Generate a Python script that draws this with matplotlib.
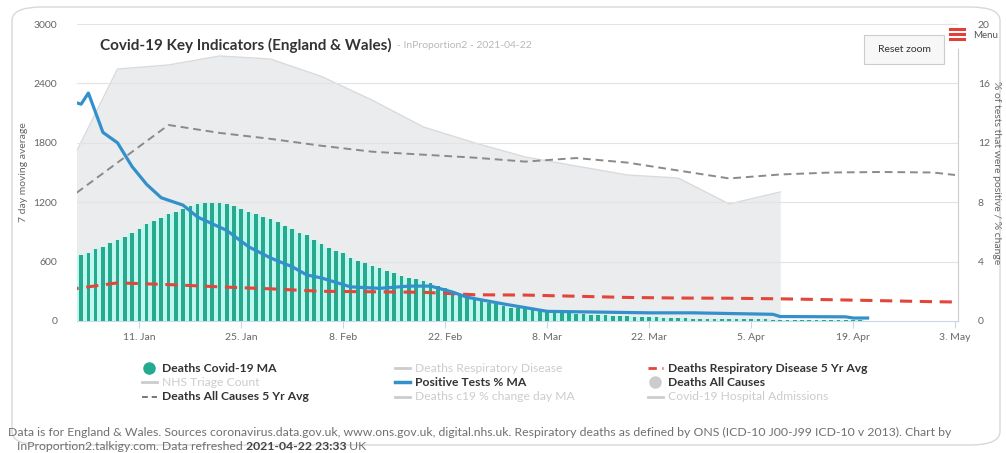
## Covid-19 key indicators chart (England & Wales)
import numpy as np
import pandas as pd
import matplotlib
matplotlib.use('Agg')
import matplotlib.pyplot as plt
from matplotlib.lines import Line2D
from matplotlib.patches import FancyBboxPatch, Rectangle

plt.rcParams['font.family'] = ['Lato', 'DejaVu Sans']

# deaths covid-19 7 day MA, daily from 3 Jan
bar_start = '2021-01-03'
deaths_c19 = [667, 690, 724, 751, 785, 818, 852, 892, 929, 976, 1010, 1044, 1078, 1104, 1135, 1162,
              1182, 1189, 1189, 1189, 1178, 1162, 1135, 1098, 1078, 1054, 1030, 997, 963, 926, 892, 869,
              818, 774, 741, 707, 683, 640, 606, 582, 556, 532, 505, 481, 455, 438, 421, 404, 380, 354,
              330, 303, 269, 246, 219, 202, 185, 168, 152, 135, 128, 118, 111, 101, 91,
              85, 80, 76, 72, 68, 64, 60, 57, 54, 51, 48, 45, 43, 40, 36, 33, 31, 29, 27,
              25, 24, 23, 22, 21, 20, 19, 18, 17, 16, 16, 15, 14, 13, 13, 12, 12, 11, 11, 10, 10, 10, 9, 9]

# weekly series (Fridays)
week_dates = ['2021-01-01', '2021-01-08', '2021-01-15', '2021-01-22', '2021-01-29', '2021-02-05',
              '2021-02-12', '2021-02-19', '2021-02-26', '2021-03-05', '2021-03-12', '2021-03-19',
              '2021-03-26', '2021-04-02', '2021-04-09', '2021-04-16', '2021-04-23', '2021-04-30',
              '2021-05-03']
deaths_all = [1510, 2545, 2586, 2677, 2646, 2470, 2230, 1960, 1800, 1657, 1565, 1475, 1444, 1182, 1303]
deaths_all_5yr = [1220, 1600, 1980, 1900, 1840, 1770, 1710, 1680, 1650, 1610, 1646, 1600, 1520, 1440,
                  1480, 1500, 1505, 1500, 1475]
resp_5yr = [315, 385, 368, 345, 325, 300, 295, 290, 265, 262, 250, 238, 232, 230, 224, 215, 205, 195, 192]

# positive tests % MA (right axis)
pos_dates = ['2021-01-02', '2021-01-03', '2021-01-04', '2021-01-06', '2021-01-08', '2021-01-10',
             '2021-01-12', '2021-01-14', '2021-01-17', '2021-01-19', '2021-01-23', '2021-01-26',
             '2021-01-29', '2021-02-01', '2021-02-03', '2021-02-05', '2021-02-09', '2021-02-13',
             '2021-02-17', '2021-02-20', '2021-02-23', '2021-02-25', '2021-03-02', '2021-03-08',
             '2021-03-15', '2021-03-22', '2021-03-28', '2021-04-08', '2021-04-09', '2021-04-18',
             '2021-04-19', '2021-04-21']
pos_tests = [14.75, 14.6, 15.35, 12.7, 12.0, 10.4, 9.2, 8.3, 7.8, 7.0, 6.1, 5.0, 4.25, 3.65, 3.1, 2.9,
             2.3, 2.2, 2.35, 2.35, 1.95, 1.6, 1.15, 0.65, 0.6, 0.55, 0.55, 0.45, 0.3, 0.28, 0.2, 0.2]

xticks = ['2021-01-11', '2021-01-25', '2021-02-08', '2021-02-22', '2021-03-08', '2021-03-22',
          '2021-04-05', '2021-04-19', '2021-05-03']
xticklabels = ['11. Jan', '25. Jan', '8. Feb', '22. Feb', '8. Mar', '22. Mar', '5. Apr', '19. Apr', '3. May']

bar_dates = pd.date_range(bar_start, periods=len(deaths_c19), freq='D')
wk = pd.to_datetime(week_dates)
pd_dates = pd.to_datetime(pos_dates)

fig = plt.figure(figsize=(10.06, 4.53), dpi=100)
W, H = 1006, 453

# card outline (behind everything)
card = FancyBboxPatch((12 / W, 8 / H), 988 / W, 438 / H, boxstyle='round,pad=0,rounding_size=0.03',
                      transform=fig.transFigure, facecolor='white', edgecolor='#d8d8d8', lw=1, zorder=-10)
fig.patches.append(card)

ax = fig.add_axes([76.7 / W, 1 - 321 / H, (958.3 - 76.7) / W, 297 / H])
ax.set_facecolor('none')
ax.set_xlim(pd.Timestamp('2021-01-02 09:30'), pd.Timestamp('2021-05-03 11:00'))
ax.set_ylim(0, 3000)

# deaths all causes area
ax.fill_between(wk[:len(deaths_all)], deaths_all, color='#ebecee', lw=0, zorder=1)
ax.plot(wk[:len(deaths_all)], deaths_all, color='#d9dadc', lw=1, zorder=1.5)

for yv in range(600, 3001, 600):
    ax.axhline(yv, color='#e3e3e3', lw=0.8, zorder=1.6)

ax.plot(wk, deaths_all_5yr, color='#8a8a8a', lw=1.4, dashes=(4, 2.5), zorder=2)

ax.bar(bar_dates, deaths_c19, width=1.0, color='#bff7ee', lw=0, zorder=3)
ax.bar(bar_dates, deaths_c19, width=0.5, color='#27a98f', lw=0, zorder=3.5)

ax.plot(wk, resp_5yr, color='#e2463b', lw=2.2, dashes=(4, 2.5), zorder=4)

ax.set_yticks(range(0, 3001, 600))
ax.set_yticklabels([str(v) for v in range(0, 3001, 600)])
ax.set_xticks(pd.to_datetime(xticks))
ax.set_xticklabels(xticklabels)
ax.tick_params(axis='y', length=0, labelsize=7.5, labelcolor='#666666', pad=14)
ax.tick_params(axis='x', length=5, color='#ccd6eb', labelsize=7.5, labelcolor='#666666', pad=4)
for s in ['top', 'right', 'left']:
    ax.spines[s].set_visible(False)
ax.spines['bottom'].set_color('#ccd6eb')
ax.set_ylabel('7 day moving average', fontsize=7.5, color='#666666', labelpad=4)

ax2 = ax.twinx()
ax2.set_ylim(0, 20)
ax2.plot(pd_dates, pos_tests, color='#3390cb', lw=2.3, zorder=5)
ax2.set_yticks(range(0, 21, 4))
ax2.tick_params(axis='y', length=0, labelsize=7.5, labelcolor='#666666', pad=14)
for s in ['top', 'left', 'bottom']:
    ax2.spines[s].set_visible(False)
ax2.spines['right'].set_color('#cccccc')
ax2.spines['right'].set_bounds(0, 18.3)
ax2.set_ylabel('% of tests that were positive / % change', fontsize=7.5, color='#666666',
               rotation=270, labelpad=8)

# title and subtitle
fig.text(100 / W, 1 - 45 / H, 'Covid-19 Key Indicators (England & Wales)', fontsize=11,
         fontweight='bold', color='#333333', va='center')
fig.text(397 / W, 1 - 45 / H, '- InProportion2 - 2021-04-22', fontsize=7.5, color='#b8b8b8', va='center')

# reset zoom button
fig.patches.append(Rectangle((864 / W, 1 - 64 / H), 80 / W, 29 / H, transform=fig.transFigure,
                             facecolor='#f7f7f7', edgecolor='#cccccc', lw=0.8))
fig.text(904 / W, 1 - 49.5 / H, 'Reset zoom', fontsize=7.5, color='#333333', ha='center', va='center')

# menu icon
for yy in [29, 34, 39]:
    fig.add_artist(Line2D([950 / W, 964 / W], [1 - yy / H, 1 - yy / H], color='#e0403a', lw=2.2))
fig.text(973 / W, 1 - 36 / H, 'Menu', fontsize=7, color='#555555', va='center')

# legend
legend_rows = [
    (142, 368, 'Deaths Covid-19 MA', 'circle', '#22ab8e', True),
    (142, 382, 'NHS Triage Count', 'line', '#cccccc', False),
    (142, 397, 'Deaths All Causes 5 Yr Avg', 'dash', '#777777', True),
    (395, 368, 'Deaths Respiratory Disease', 'line', '#cccccc', False),
    (395, 382, 'Positive Tests % MA', 'line', '#3390cb', True),
    (395, 397, 'Deaths c19 % change day MA', 'line', '#cccccc', False),
    (648, 368, 'Deaths Respiratory Disease 5 Yr Avg', 'dash', '#e2463b', True),
    (648, 382, 'Deaths All Causes', 'circle', '#cccccc', True),
    (648, 397, 'Covid-19 Hospital Admissions', 'line', '#cccccc', False),
]
for lx, ly, txt, kind, col, on in legend_rows:
    yf = 1 - ly / H
    if kind == 'circle':
        fig.add_artist(Line2D([(lx + 7) / W], [yf], marker='o', ms=8, color=col, lw=0))
    elif kind == 'dash':
        fig.add_artist(Line2D([lx / W, (lx + 15) / W], [yf, yf], color=col, lw=2 if col != '#777777' else 1.4,
                              dashes=(3, 2)))
    else:
        fig.add_artist(Line2D([lx / W, (lx + 15) / W], [yf, yf], color=col, lw=2.5 if on else 2))
    fig.text((lx + 20) / W, yf, txt, fontsize=8.7, va='center',
             fontweight='bold' if on else 'normal', color='#333333' if on else '#cccccc')

# footer
fig.text(8 / W, 1 - 432 / H, 'Data is for England & Wales. Sources coronavirus.data.gov.uk, www.ons.gov.uk, '
         'digital.nhs.uk. Respiratory deaths as defined by ONS (ICD-10 J00-J99 ICD-10 v 2013). Chart by',
         fontsize=8.8, color='#707070', va='center')
t1 = fig.text(17 / W, 1 - 446 / H, 'InProportion2.talkigy.com. Data refreshed ', fontsize=8.8,
              color='#707070', va='center')
fig.canvas.draw()
bb = t1.get_window_extent()
t2 = fig.text(bb.x1 / W, 1 - 446 / H, '2021-04-22 23:33', fontsize=8.8, color='#444444',
              fontweight='bold', va='center')
fig.canvas.draw()
bb2 = t2.get_window_extent()
fig.text(bb2.x1 / W, 1 - 446 / H, ' UK', fontsize=8.8, color='#707070', va='center')

plt.savefig('out.png', dpi=100)
